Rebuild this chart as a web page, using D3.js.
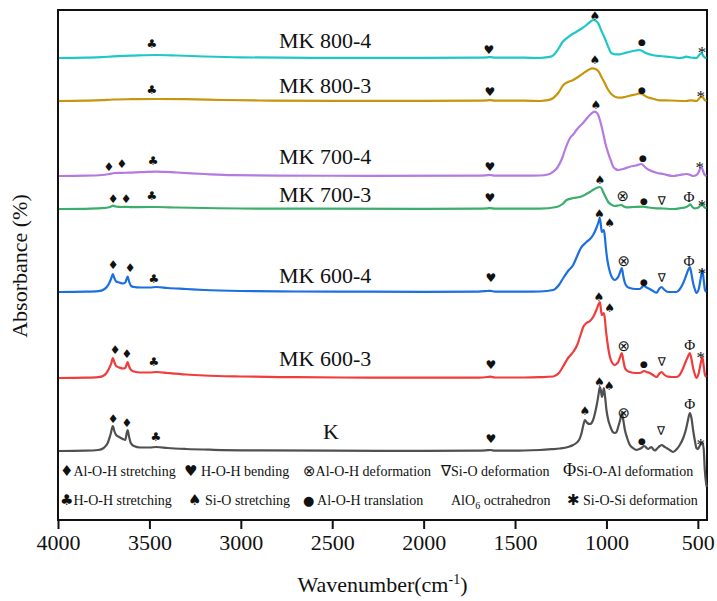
<!DOCTYPE html>
<html>
<head>
<meta charset="utf-8">
<script src="https://cdn.jsdelivr.net/npm/d3@7"></script>
<style>
  body { margin: 0; background: #fff; }
  text { font-family: "Liberation Serif", "Times New Roman", Tinos, Times, "DejaVu Serif", serif; }
  .sym { font-family: "DejaVu Sans", sans-serif; }
</style>
</head>
<body>
<div id="chart"></div>
<script>
// spectra: [wavenumber, absorbance above own baseline]
var kData = [[3995,0],[3850,0.3],[3780,1],[3750,3],[3728,8],[3712,17],[3700,25],[3692,20],[3682,16],[3665,14],[3645,12],[3632,11],[3624,18],[3619,21],[3612,15],[3602,8],[3585,5],[3550,3.5],[3500,3.5],[3460,4],[3400,3],[3300,2],[3150,1.2],[2900,0.6],[2500,0.3],[2000,0.2],[1700,0.3],[1650,0.8],[1635,1],[1610,0.4],[1450,0.5],[1364,1],[1300,1.8],[1255,2.5],[1210,4],[1182,6],[1150,11],[1136,18],[1125,27],[1118,31],[1105,28],[1090,27],[1073,31],[1060,40],[1051,48],[1042,58],[1036,64],[1030,60],[1025,54],[1019,58],[1014,63],[1008,55],[1000,41],[990,31],[978,24],[965,19],[954,18],[945,19],[936,24],[925,31],[916,38],[908,31],[899,21],[885,12],[872,6],[855,3],[836,1],[820,2],[808,3],[795,5],[785,4],[772,2],[760,3.5],[754,4],[745,2],[735,0.5],[720,3],[708,5],[697,6],[685,4.5],[671,3],[650,0.5],[635,-1],[615,2],[599,6],[580,13],[566,21],[555,30],[544,38],[535,33],[526,21],[515,9],[508,3],[500,2],[493,4],[484,7],[475,8],[468,2],[462,-19],[455,-32],[451,-36]];

var mk6003 = [[3995,0],[3850,0.3],[3780,0.8],[3745,3],[3722,9],[3708,15],[3700,20],[3692,16],[3682,12],[3665,10.5],[3645,9.5],[3632,10],[3624,14],[3619,16],[3612,12],[3600,8],[3585,6.5],[3550,5.5],[3500,5.5],[3460,6],[3400,5],[3300,3.5],[3200,2.5],[3000,1.5],[2700,0.8],[2300,0.4],[2000,0.3],[1700,0.4],[1650,1],[1635,1.3],[1610,0.5],[1450,0.5],[1364,0.8],[1291,1.5],[1260,5],[1236,12],[1210,20],[1182,26],[1160,33],[1140,44],[1127,51],[1109,55],[1090,57],[1073,61],[1055,68],[1045,73],[1036,76],[1030,68],[1025,63],[1019,64],[1014,65],[1008,58],[1003,48],[995,36],[981,21],[968,15],[954,13],[945,14],[936,16],[925,21],[916,25],[908,18],[899,10],[885,7],[872,6],[840,5],[817,5],[805,6],[795,7],[780,6],[763,5],[745,3],[726,1],[712,4],[699,6],[685,3.5],[663,1.3],[640,1],[617,1],[600,3],[580,10],[565,17],[553,22],[544,25],[535,19],[526,10],[517,4],[508,0],[495,5],[485,14],[475,21],[468,12],[462,4],[455,1]];

var mk6004 = [[3995,0],[3850,0.3],[3780,0.8],[3745,3],[3722,8],[3708,14],[3700,18],[3692,14],[3682,10.5],[3665,9.5],[3645,8.5],[3632,9.5],[3624,13.5],[3619,15.5],[3612,11],[3600,6],[3585,5],[3550,4.5],[3500,4.5],[3460,5],[3400,4],[3300,3],[3200,2],[3000,1],[2700,0.5],[2300,0.3],[2000,0.2],[1700,0.4],[1650,1],[1635,1.2],[1610,0.4],[1450,0.3],[1364,0.5],[1291,2],[1260,7],[1236,14],[1210,21],[1182,27],[1160,36],[1140,44],[1127,47],[1109,50],[1090,53],[1073,57],[1055,64],[1045,69],[1036,74],[1030,66],[1025,60],[1019,61],[1014,62],[1008,54],[1003,44],[995,32],[981,20],[968,14],[954,12],[945,13],[936,15],[925,20],[916,24],[908,16],[899,9],[885,5],[872,4],[840,3],[817,3],[805,5],[795,6],[780,4.5],[763,3],[745,1],[726,-0.7],[712,3],[699,5],[685,2.5],[663,0],[640,0],[617,0],[600,2.5],[580,9],[565,16],[553,22],[544,25],[535,18],[526,9],[517,3],[508,-1],[495,3],[485,13],[475,22],[468,12],[462,3],[455,0]];

var mk7003 = [[3995,0],[3850,0.2],[3760,0.8],[3715,2],[3700,3.3],[3685,2.5],[3650,2],[3625,2.2],[3600,1.8],[3500,2],[3460,2],[3350,1.5],[3200,1],[3000,0.5],[2600,0.3],[2000,0.2],[1700,0.3],[1650,0.7],[1635,0.9],[1610,0.3],[1450,0.3],[1364,0.3],[1273,2],[1240,5],[1218,9],[1180,11],[1145,12],[1115,14.5],[1091,17],[1070,19.5],[1054,21],[1036,22],[1025,20],[1018,17],[1005,12],[990,7],[970,4],[954,3],[935,3.5],[918,4],[905,2.5],[890,1.7],[850,2],[799,2.3],[770,1.5],[726,0.7],[690,0.5],[635,0],[590,1],[563,2],[550,3.5],[541,4.7],[530,2],[517,0.7],[499,1.3],[488,3],[475,5],[465,2],[453,0.7]];

var mk7004 = [[3995,0],[3850,0.3],[3760,1],[3720,2],[3690,3],[3650,3.2],[3610,3.3],[3550,3.8],[3460,4.3],[3350,3.5],[3200,2],[3043,0.8],[2800,0.4],[2300,0.2],[1700,0.3],[1650,0.8],[1635,1],[1610,0.3],[1450,0.3],[1364,0.5],[1320,1.5],[1291,4.3],[1270,8],[1255,12.7],[1240,19],[1227,26],[1200,37.7],[1180,42],[1164,46],[1145,50],[1127,53.3],[1110,57],[1091,61],[1075,63.5],[1063,64.3],[1055,63.5],[1045,61],[1030,52],[1018,42.7],[1005,32],[990,22.7],[975,15],[963,9.3],[950,7],[936,6],[910,7],[872,9.3],[840,10.5],[808,12],[795,10],[781,7.7],[760,5.5],[726,3.3],[690,2],[635,0],[600,1],[563,2],[540,1],[526,0],[508,1],[495,4],[485,8],[479,8.3],[470,4],[462,1],[453,0]];

var mk8003 = [[3995,0],[3850,0.3],[3760,0.8],[3700,1.5],[3600,1.8],[3460,2],[3300,1.8],[3100,1],[2900,0.5],[2500,0.2],[2000,0.2],[1700,0.3],[1650,0.7],[1635,0.9],[1610,0.3],[1450,0.3],[1364,0],[1320,0.8],[1291,3],[1260,9],[1236,16],[1210,19],[1182,21],[1155,24],[1127,27.7],[1100,31],[1076,32.7],[1060,32],[1045,30],[1027,24],[1009,17.7],[990,11],[972,6.7],[950,4],[927,3.3],[900,4],[872,5.3],[840,6.5],[817,7.7],[800,6.5],[781,4.3],[750,2.5],[708,0.7],[650,0.5],[563,0],[540,0.7],[508,0],[495,2],[485,4],[475,4.3],[465,1.5],[453,0]];

var mk8004 = [[3995,0],[3850,0.3],[3760,0.8],[3700,1.7],[3600,2.3],[3460,3],[3350,2.5],[3200,1.5],[3000,0.6],[2600,0.2],[2000,0.2],[1700,0.3],[1650,0.7],[1635,0.9],[1610,0.3],[1450,0.3],[1364,0],[1320,0.8],[1291,2.7],[1260,10],[1240,16],[1218,19.7],[1190,23.5],[1164,26.3],[1135,29.5],[1109,33],[1090,36],[1073,38],[1060,37.5],[1045,34.7],[1027,27],[1009,19.7],[990,11],[972,4.7],[950,3.7],[927,3.7],[900,5],[872,6.3],[840,7.5],[817,8],[800,6.5],[781,4.7],[750,3],[708,2],[650,1],[599,0],[580,0.5],[563,1.3],[540,0.5],[508,0],[495,2.5],[485,4.5],[479,4.7],[470,2],[462,0.5],[453,0]];

var seriesNames = ["K", "MK 600-3", "MK 600-4", "MK 700-3", "MK 700-4", "MK 800-3", "MK 800-4"];
var seriesData = [kData, mk6003, mk6004, mk7003, mk7004, mk8003, mk8004];
var seriesColors = ["#505050", "#f03c3c", "#1c6fe0", "#3aae6a", "#b47ae2", "#c9950c", "#1ec8c8"];
// vertical stacking offset of each spectrum
var seriesOffsets = [69, 142, 228, 311, 344, 419, 462];
// name label: [wavenumber, height above baseline]
var nameLabelPos = [[2551, 12], [2791, 12], [2791, 9], [2791, 7], [2791, 12], [2791, 8], [2791, 10]];

// band markers per spectrum: [symbol, wavenumber, height above baseline]
var kMarks = [["♦",3699,32],["♦",3623,28],["♣",3464,14],["♥",1632,12],["♠",1118,40],["♠",1038,69],["♠",985,65],["⊗",905,38],["●",806,10],["∇",702,20],["Φ",544,47],["*",484,11]];
var mk6003Marks = [["♦",3688,28],["♦",3623,24],["♣",3475,16],["♥",1632,13],["♠",1041,81],["♠",983,70],["⊗",905,32],["●",795,14],["∇",697,16],["Φ",544,33],["*",484,25]];
var mk6004Marks = [["♦",3699,27],["♦",3606,24],["♣",3475,13],["♥",1632,14],["♠",1038,78],["♠",982,69],["⊗",905,31],["●",795,10],["∇",697,14],["Φ",549,31],["*",478,23]];
var mk7003Marks = [["♦",3699,10],["♦",3628,10],["♣",3486,13],["♥",1638,11],["♠",1036,29],["⊗",910,13],["●",795,8],["∇",697,8],["Φ",549,12],["*",478,8]];
var mk7004Marks = [["♦",3721,9],["♦",3650,12],["♣",3480,15],["♥",1638,9],["♠",1058,71],["●",801,18],["*",489,13]];
var mk8003Marks = [["♣",3486,11],["♥",1638,9],["♠",1063,41],["●",806,11],["*",484,9]];
var mk8004Marks = [["♣",3486,14],["♥",1643,8],["♠",1063,42],["●",806,16],["*",478,10]];
var seriesMarks = [kMarks, mk6003Marks, mk6004Marks, mk7003Marks, mk7004Marks, mk8003Marks, mk8004Marks];

// legend
var legendRow1Symbols = ["♦", "♥", "⊗", "∇", "Φ"];
var legendRow1Labels = ["Al-O-H stretching", " H-O-H bending", "Al-O-H deformation", "Si-O deformation", "Si-O-Al deformation"];
var legendRow2Symbols = ["♣", "♠", "●", "", "✱"];
var legendRow2Labels = ["H-O-H stretching", " Si-O stretching", " Al-O-H translation", "AlO6 octrahedron", " Si-O-Si deformation"];

var xTicks = [4000, 3500, 3000, 2500, 2000, 1500, 1000, 500];

var svgWidth = 717;
var svgHeight = 601;
var margin = { top: 10, right: 10, bottom: 81, left: 58 };
var width = svgWidth - margin.left - margin.right;
var height = svgHeight - margin.top - margin.bottom;

var svg = d3.select("#chart")
  .append("svg")
  .attr("width", svgWidth)
  .attr("height", svgHeight);

var chartGroup = svg.append("g")
  .attr("transform", `translate(${margin.left}, ${margin.top})`);

var xScale = d3.scaleLinear().domain([4000, 450]).range([0, width]);
var yScale = d3.scaleLinear().domain([0, 510]).range([height, 0]);

// sizes of the little band symbols
var symSize = { "♦": 12, "♥": 12, "♣": 12, "♠": 12, "●": 9, "⊗": 15, "∇": 12, "Φ": 15, "*": 17 };

// frame
chartGroup.append("rect")
  .attr("width", width)
  .attr("height", height)
  .attr("fill", "none")
  .attr("stroke", "#111")
  .attr("stroke-width", 2);

// x axis
var xAxis = chartGroup.append("g")
  .attr("transform", `translate(0, ${height})`)
  .call(d3.axisBottom(xScale).tickValues(xTicks).tickSize(9).tickSizeOuter(0).tickFormat(d3.format("d")));
xAxis.attr("font-family", null);
xAxis.select(".domain").remove();
xAxis.selectAll(".tick line").attr("stroke", "#111").attr("stroke-width", 2);
xAxis.selectAll(".tick text")
  .attr("y", 14)
  .attr("dy", "0.71em")
  .attr("fill", "#111")
  .style("font-size", "22px");

// axis titles
var xTitle = svg.append("text")
  .attr("x", margin.left + width / 2)
  .attr("y", 592)
  .attr("text-anchor", "middle")
  .style("font-size", "22px")
  .attr("fill", "#111");
xTitle.append("tspan").text("Wavenumber(cm");
xTitle.append("tspan").attr("dy", -8).style("font-size", "14px").text("-1");
xTitle.append("tspan").attr("dy", 8).text(")");

svg.append("text")
  .attr("transform", "rotate(-90)")
  .attr("x", -266)
  .attr("y", 27)
  .attr("text-anchor", "middle")
  .style("font-size", "22px")
  .attr("fill", "#111")
  .text("Absorbance (%)");

// spectra
var line = d3.line()
  .x(d => xScale(d[0]))
  .y(d => yScale(d[1]))
  .curve(d3.curveMonotoneX);

seriesData.forEach(function(data, i) {
  var off = seriesOffsets[i];
  chartGroup.append("path")
    .datum(data.map(d => [d[0], d[1] + off]))
    .attr("fill", "none")
    .attr("stroke", seriesColors[i])
    .attr("stroke-width", 2.2)
    .attr("stroke-linejoin", "round")
    .attr("d", line);

  // spectrum name
  chartGroup.append("text")
    .attr("x", xScale(nameLabelPos[i][0]))
    .attr("y", yScale(off + nameLabelPos[i][1]))
    .style("font-size", "22px")
    .attr("fill", "#111")
    .text(seriesNames[i]);

  // band markers
  chartGroup.selectAll(null)
    .data(seriesMarks[i])
    .enter()
    .append("text")
    .attr("class", d => (d[0] === "Φ" || d[0] === "*") ? null : "sym")
    .attr("x", d => xScale(d[1]))
    .attr("y", d => yScale(off + d[2]))
    .attr("text-anchor", "middle")
    .attr("dominant-baseline", "central")
    .style("font-size", d => symSize[d[0]] + "px")
    .attr("dy", d => d[0] === "*" ? "0.25em" : 0)
    .attr("fill", "#111")
    .text(d => d[0]);
});

// legend (two rows inside the frame)
var legendCols = [[60, 184, 303, 441, 563], [60, 188, 303, 441, 567]];
var legendBase = [476, 505];
[[legendRow1Symbols, legendRow1Labels], [legendRow2Symbols, legendRow2Labels]].forEach(function(row, r) {
  row[0].forEach(function(sym, j) {
    var t = svg.append("text")
      .attr("x", legendCols[r][j])
      .attr("y", legendBase[r])
      .style("font-size", "14px")
      .attr("fill", "#111");
    if (sym === "") {
      t.attr("x", legendCols[r][j] + 10);
      t.append("tspan").text("AlO");
      t.append("tspan").attr("dy", 4).style("font-size", "10px").text("6");
      t.append("tspan").attr("dy", -4).text(" octrahedron");
    } else {
      t.append("tspan")
        .attr("class", sym === "Φ" ? null : "sym")
        .style("font-size", sym === "Φ" ? "18px" : sym === "●" ? "13px" : "15px")
        .text(sym);
      t.append("tspan").text(row[1][j]);
    }
  });
});
</script>
</body>
</html>
